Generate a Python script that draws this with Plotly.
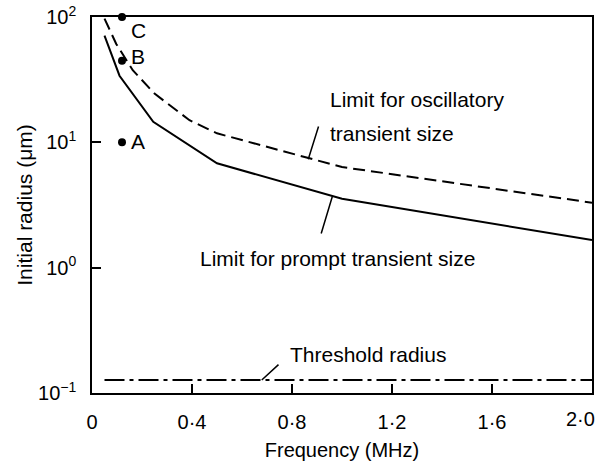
import numpy as np
import plotly.graph_objects as go

# ---- data ----
prompt_x = [0.05, 0.11, 0.245, 0.5, 1.0, 2.0]
prompt_y = [71, 34, 14.6, 6.8, 3.55, 1.66]

osc_x = [0.05, 0.097, 0.163, 0.25, 0.39, 0.5, 1.0, 2.0]
osc_y = [97, 61, 37.6, 24.5, 15, 11.8, 6.35, 3.3]

thr_x = [0.05, 2.0]
thr_y = [0.127, 0.127]

pt_labels = ["C", "B", "A"]
pt_x = [0.12, 0.12, 0.12]
pt_y = [100, 44.7, 10]

x_ticks = [0, 0.4, 0.8, 1.2, 1.6, 2.0]
x_ticktext = ["0", "0·4", "0·8", "1·2", "1·6", "2·0"]
y_ticks = [0.1, 1, 10, 100]
y_ticktext = ["10<sup>−1</sup>", "10<sup>0</sup>", "10<sup>1</sup>", "10<sup>2</sup>"]

FONT = "Liberation Sans, Arial, sans-serif"

fig = go.Figure()
fig.add_trace(go.Scatter(x=osc_x, y=osc_y, mode="lines",
                         line=dict(color="black", width=2, dash="12px,6px"),
                         hoverinfo="skip"))
fig.add_trace(go.Scatter(x=prompt_x, y=prompt_y, mode="lines",
                         line=dict(color="black", width=2),
                         hoverinfo="skip"))
fig.add_trace(go.Scatter(x=thr_x, y=thr_y, mode="lines",
                         line=dict(color="black", width=2, dash="20px,5px,4px,5px"),
                         hoverinfo="skip"))
fig.add_trace(go.Scatter(x=pt_x, y=pt_y, mode="markers",
                         marker=dict(color="black", size=8),
                         cliponaxis=False, hoverinfo="skip"))

# point labels
shifts = {"C": -13, "B": 4, "A": 1}
for lab, xv, yv in zip(pt_labels, pt_x, pt_y):
    fig.add_annotation(x=xv, y=np.log10(yv), text=lab, showarrow=False,
                       xshift=16, yshift=shifts[lab], xanchor="center", yanchor="middle",
                       font=dict(family=FONT, size=21, color="black"))

# leader lines (tail at the text, head on the curve)
leaders = [
    ((0.865, 0.865), (0.908, 1.138)),
    ((0.961, 0.566), (0.915, 0.261)),
    ((0.679, -0.896), (0.752, -0.763)),
]
for (hx, hy), (tx, ty) in leaders:
    fig.add_annotation(x=hx, y=hy, ax=tx, ay=ty, axref="x", ayref="y",
                       xref="x", yref="y", text="", showarrow=True,
                       arrowhead=0, arrowwidth=1.5, arrowcolor="black")

texts = [
    ("Limit for oscillatory", 0.943, 1.34, "left"),
    ("transient size", 0.943, 1.074, "left"),
    ("Limit for prompt transient size", 0.982, 0.075, "center"),
    ("Threshold radius", 1.105, -0.69, "center"),
]
for t, xv, yv, anc in texts:
    fig.add_annotation(x=xv, y=yv, text=t, showarrow=False, xanchor=anc,
                       yanchor="middle", font=dict(family=FONT, size=21, color="black"))

# the last x tick label sits just left of the right border (as in the original)
shown_x_ticktext = x_ticktext[:-1] + [""]
fig.add_annotation(x=x_ticks[-1], y=0, xref="x", yref="paper", text=x_ticktext[-1],
                   showarrow=False, xanchor="right", yanchor="middle",
                   xshift=5, yshift=-26,
                   font=dict(family=FONT, size=20, color="black"))

fig.update_layout(
    width=602, height=461,
    margin=dict(l=92, r=10, t=17, b=68),
    paper_bgcolor="white", plot_bgcolor="white",
    showlegend=False,
    font=dict(family=FONT, color="black"),
)
fig.update_xaxes(range=[0, 2.0], tickvals=x_ticks, ticktext=shown_x_ticktext,
                 ticks="inside", ticklen=9, tickwidth=1.5, tickcolor="black",
                 showline=True, linecolor="black", linewidth=1.5, mirror=True,
                 showgrid=False, zeroline=False, automargin=False,
                 tickfont=dict(family=FONT, size=20, color="black"),
                 ticklabelstandoff=10,
                 title=dict(text="Frequency (MHz)", font=dict(family=FONT, size=20, color="black"),
                            standoff=14))
fig.update_yaxes(type="log", range=[-1, 2], tickvals=y_ticks, ticktext=y_ticktext,
                 ticks="inside", ticklen=9, tickwidth=1.5, tickcolor="black",
                 showline=True, linecolor="black", linewidth=1.5, mirror=True,
                 showgrid=False, zeroline=False, automargin=False,
                 tickfont=dict(family=FONT, size=20, color="black"),
                 ticklabelstandoff=10, ticklabeloverflow="allow",
                 title=dict(text="Initial radius (μm)", font=dict(family=FONT, size=21, color="black"),
                            standoff=0))

fig.write_html("out.html")
